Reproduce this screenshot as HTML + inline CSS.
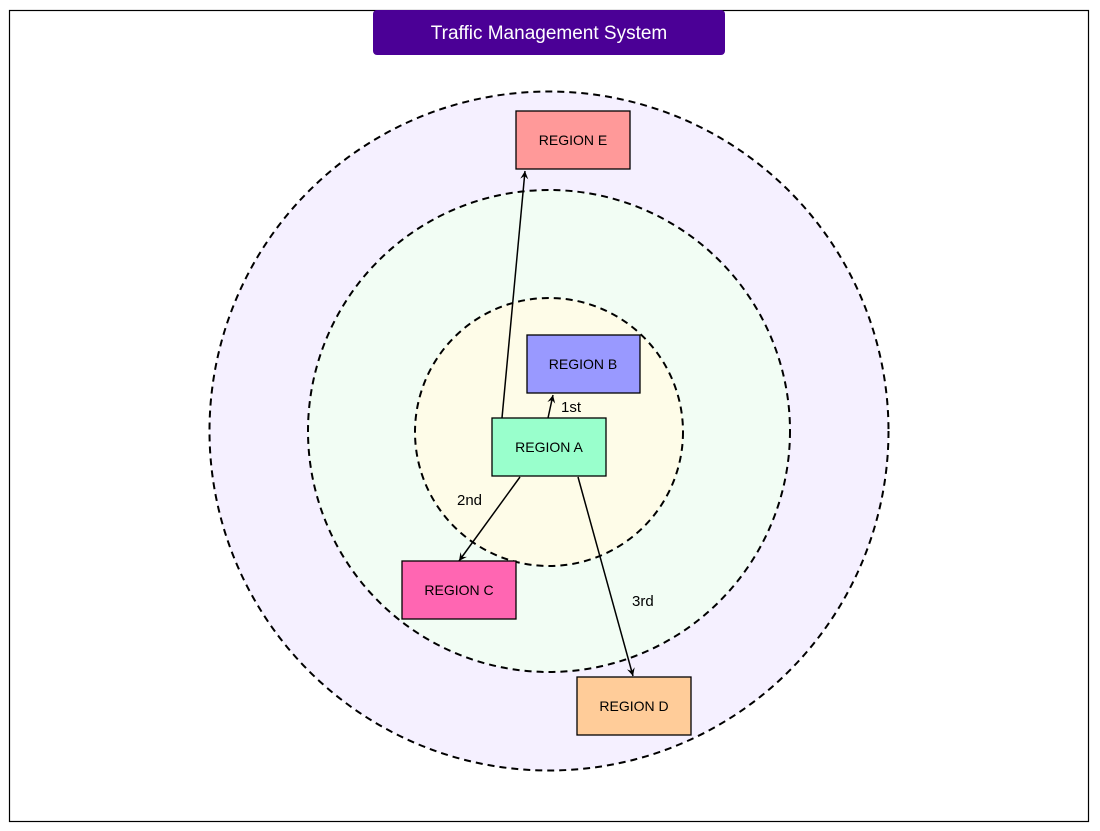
<!DOCTYPE html>
<html><head><meta charset="utf-8"><style>body{margin:0;background:#fff}svg{display:block}text{font-family:"Liberation Sans",Arial,sans-serif}</style></head><body>
<svg width="1100" height="831" viewBox="0 0 1100 831" xmlns="http://www.w3.org/2000/svg">
<defs><marker id="ar" markerWidth="10" markerHeight="10" refX="9" refY="5" orient="auto" markerUnits="userSpaceOnUse"><path d="M1,1 L9,5 L1,9 L4,5 Z" fill="#000"/></marker></defs>
<rect x="9.5" y="10.5" width="1079" height="811" fill="#fff" stroke="#000" stroke-width="1.2"/>
<rect x="373" y="10" width="352" height="45" rx="4" fill="#4b0096"/>
<text x="549" y="39" font-size="19" fill="#fff" text-anchor="middle">Traffic Management System</text>
<circle cx="549" cy="431" r="339.5" fill="#f5f0ff" stroke="#000" stroke-width="2" stroke-dasharray="7,5"/>
<circle cx="549" cy="431" r="241" fill="#f2fdf4" stroke="#000" stroke-width="2" stroke-dasharray="7,5"/>
<circle cx="549" cy="432" r="134" fill="#fefce8" stroke="#000" stroke-width="2" stroke-dasharray="7,5"/>
<g stroke="#000" stroke-width="1.3">
<rect x="516" y="111" width="114" height="58" fill="#ff9999"/>
<rect x="527" y="335" width="113" height="58" fill="#9999ff"/>
<rect x="492" y="418" width="114" height="58" fill="#99ffcc"/>
<rect x="402" y="561" width="114" height="58" fill="#ff66b2"/>
<rect x="577" y="677" width="114" height="58" fill="#ffcc99"/>
</g>
<g font-size="14" text-anchor="middle">
<text x="573" y="145">REGION E</text>
<text x="583" y="369">REGION B</text>
<text x="549" y="452">REGION A</text>
<text x="459" y="595">REGION C</text>
<text x="634" y="711">REGION D</text>
</g>
<g stroke="#000" stroke-width="1.5" marker-end="url(#ar)">
<line x1="502" y1="418" x2="525" y2="171"/>
<line x1="548" y1="418" x2="553" y2="395"/>
<line x1="520" y1="477" x2="459" y2="561"/>
<line x1="578" y1="477" x2="633" y2="676"/>
</g>
<g font-size="15">
<text x="561" y="412">1st</text>
<text x="457" y="505">2nd</text>
<text x="632" y="606">3rd</text>
</g>
</svg>
</body></html>
